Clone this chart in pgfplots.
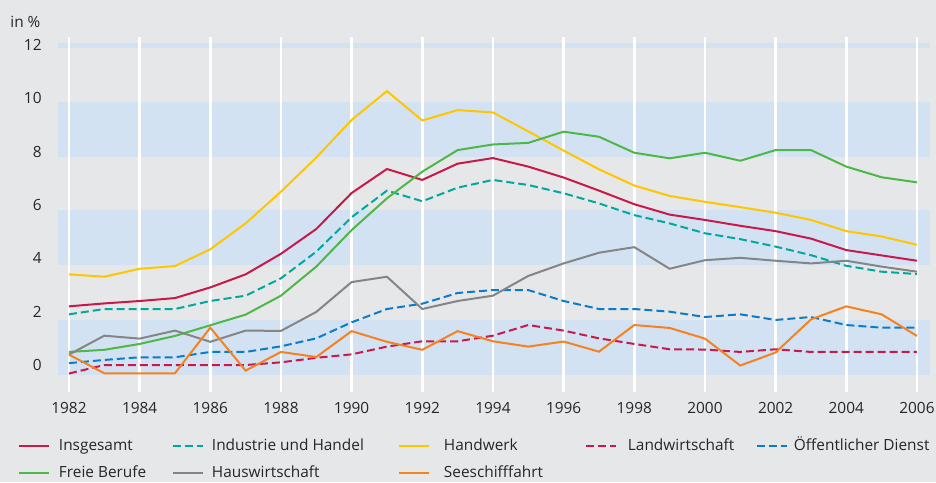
\documentclass[border=0pt]{standalone}
\usepackage{fontspec}
\setmainfont{Open Sans}
\usepackage{pgfplots}
\pgfplotsset{compat=1.18}
\definecolor{bgc}{HTML}{E6E7E8}
\definecolor{band}{HTML}{D3E2F2}
\definecolor{cInsg}{HTML}{C8194B}
\definecolor{cInd}{HTML}{00A99D}
\definecolor{cHand}{HTML}{FFC600}
\definecolor{cOeff}{HTML}{0A7DC8}
\definecolor{cFrei}{HTML}{4DB848}
\definecolor{cHaus}{HTML}{858585}
\definecolor{cSee}{HTML}{F5821F}
\begin{document}
\fontsize{7.7pt}{9pt}\selectfont
\begin{tikzpicture}
\fill[bgc] (-29pt,-45pt) rectangle (439pt,196pt);
\begin{axis}[
  scale only axis, width=436pt, height=177.5pt,
  xmin=1981.69, xmax=2006.37, ymin=-1.012, ymax=12.3,
  axis line style={draw=none},
  major tick length=0pt, tick style={draw=none},
  xtick={1982,1984,...,2006}, ytick={0,2,...,12},
  /pgf/number format/assume math mode=true,
  /pgf/number format/set thousands separator={},
  xticklabel style={inner sep=0pt, anchor=north, yshift=-5pt},
  yticklabel style={inner sep=0pt, anchor=east, xshift=-8pt},
  tick label style={font=\fontsize{7.7pt}{9pt}\selectfont, text=black!85},
  legend columns=5,
  legend cell align=left,
  legend style={at={(axis description cs:-0.0459,-0.1296)}, anchor=north west,
    draw=none, fill=none, inner sep=0pt, outer sep=0pt,
    font=\fontsize{7.7pt}{9pt}\selectfont, text=black!85,
    nodes={inner sep=0pt, text height=6pt, text depth=2pt},
    row sep=5.5pt, column sep=0pt},
  legend image code/.code={\draw[#1] (0pt,0pt) -- (15pt,0pt);},
]
\fill[band] (axis cs:1981.69,-0.375) rectangle (axis cs:2006.37,1.69);
\fill[band] (axis cs:1981.69,3.75) rectangle (axis cs:2006.37,5.81);
\fill[band] (axis cs:1981.69,7.8) rectangle (axis cs:2006.37,9.86);
\fill[band] (axis cs:1981.69,11.89) rectangle (axis cs:2006.37,12.07);
\pgfplotsinvokeforeach{1982,1984,...,2006}{\draw[white, line width=1.3pt] (axis cs:#1,-1.012) -- (axis cs:#1,12.3);}

\addplot[cInsg, line width=1pt] coordinates {(1982,2.20)(1983,2.31)(1984,2.40)(1985,2.51)(1986,2.91)(1987,3.40)(1988,4.17)(1989,5.10)(1990,6.45)(1991,7.35)(1992,6.94)(1993,7.55)(1994,7.76)(1995,7.44)(1996,7.03)(1997,6.54)(1998,6.03)(1999,5.64)(2000,5.44)(2001,5.22)(2002,5.02)(2003,4.74)(2004,4.31)(2005,4.11)(2006,3.91)};
\addlegendentry{\makebox[61pt][l]{\hspace*{4.5pt}Insgesamt}}
\addplot[cInd, line width=1pt, dash pattern=on 4pt off 2pt] coordinates {(1982,1.90)(1983,2.10)(1984,2.10)(1985,2.10)(1986,2.40)(1987,2.60)(1988,3.25)(1989,4.25)(1990,5.54)(1991,6.54)(1992,6.14)(1993,6.65)(1994,6.94)(1995,6.75)(1996,6.44)(1997,6.06)(1998,5.62)(1999,5.31)(2000,4.94)(2001,4.72)(2002,4.44)(2003,4.12)(2004,3.72)(2005,3.50)(2006,3.41)};
\addlegendentry{\makebox[97pt][l]{\hspace*{4pt}Industrie und Handel}}
\addplot[cHand, line width=1pt] coordinates {(1982,3.40)(1983,3.31)(1984,3.61)(1985,3.71)(1986,4.34)(1987,5.31)(1988,6.5)(1989,7.78)(1990,9.19)(1991,10.27)(1992,9.17)(1993,9.56)(1994,9.47)(1995,8.76)(1996,8.04)(1997,7.34)(1998,6.73)(1999,6.34)(2000,6.12)(2001,5.92)(2002,5.71)(2003,5.44)(2004,5.02)(2005,4.82)(2006,4.51)};
\addlegendentry{\makebox[77.5pt][l]{\hspace*{7pt}Handwerk}}
\addplot[cInsg, line width=1pt, dash pattern=on 4pt off 2pt] coordinates {(1982,-0.32)(1983,0.0)(1984,0.0)(1985,0.0)(1986,0.0)(1987,0.0)(1988,0.1)(1989,0.27)(1990,0.40)(1991,0.69)(1992,0.89)(1993,0.89)(1994,1.10)(1995,1.50)(1996,1.29)(1997,1.0)(1998,0.79)(1999,0.59)(2000,0.58)(2001,0.49)(2002,0.59)(2003,0.49)(2004,0.49)(2005,0.49)(2006,0.49)};
\addlegendentry{\makebox[69.5pt][l]{\hspace*{5.5pt}Landwirtschaft}}
\addplot[cOeff, line width=1pt, dash pattern=on 4pt off 2pt] coordinates {(1982,0.07)(1983,0.19)(1984,0.29)(1985,0.29)(1986,0.49)(1987,0.49)(1988,0.70)(1989,1.0)(1990,1.6)(1991,2.1)(1992,2.30)(1993,2.70)(1994,2.81)(1995,2.81)(1996,2.40)(1997,2.10)(1998,2.10)(1999,2.0)(2000,1.80)(2001,1.90)(2002,1.69)(2003,1.80)(2004,1.50)(2005,1.40)(2006,1.40)};
\addlegendentry{\hspace*{3pt}Öffentlicher Dienst}
\addplot[cFrei, line width=1pt] coordinates {(1982,0.49)(1983,0.57)(1984,0.79)(1985,1.09)(1986,1.49)(1987,1.89)(1988,2.60)(1989,3.69)(1990,5.06)(1991,6.25)(1992,7.25)(1993,8.06)(1994,8.27)(1995,8.33)(1996,8.75)(1997,8.56)(1998,7.96)(1999,7.75)(2000,7.96)(2001,7.66)(2002,8.06)(2003,8.06)(2004,7.44)(2005,7.04)(2006,6.85)};
\addlegendentry{\hspace*{4.5pt}Freie Berufe}
\addplot[cHaus, line width=1pt] coordinates {(1982,0.39)(1983,1.10)(1984,0.99)(1985,1.29)(1986,0.87)(1987,1.29)(1988,1.28)(1989,1.99)(1990,3.11)(1991,3.31)(1992,2.10)(1993,2.40)(1994,2.60)(1995,3.34)(1996,3.81)(1997,4.21)(1998,4.42)(1999,3.61)(2000,3.93)(2001,4.02)(2002,3.91)(2003,3.81)(2004,3.91)(2005,3.69)(2006,3.50)};
\addlegendentry{\hspace*{4pt}Hauswirtschaft}
\addplot[cSee, line width=1pt] coordinates {(1982,0.39)(1983,-0.31)(1984,-0.31)(1985,-0.31)(1986,1.40)(1987,-0.21)(1988,0.49)(1989,0.3)(1990,1.27)(1991,0.87)(1992,0.57)(1993,1.27)(1994,0.89)(1995,0.69)(1996,0.88)(1997,0.5)(1998,1.50)(1999,1.39)(2000,0.99)(2001,-0.02)(2002,0.47)(2003,1.71)(2004,2.20)(2005,1.90)(2006,1.09)};
\addlegendentry{\hspace*{7pt}Seeschifffahrt}
\end{axis}
\node[anchor=west, inner sep=0pt, text=black!85] at (-24pt,185pt) {in \%};
\end{tikzpicture}
\end{document}
